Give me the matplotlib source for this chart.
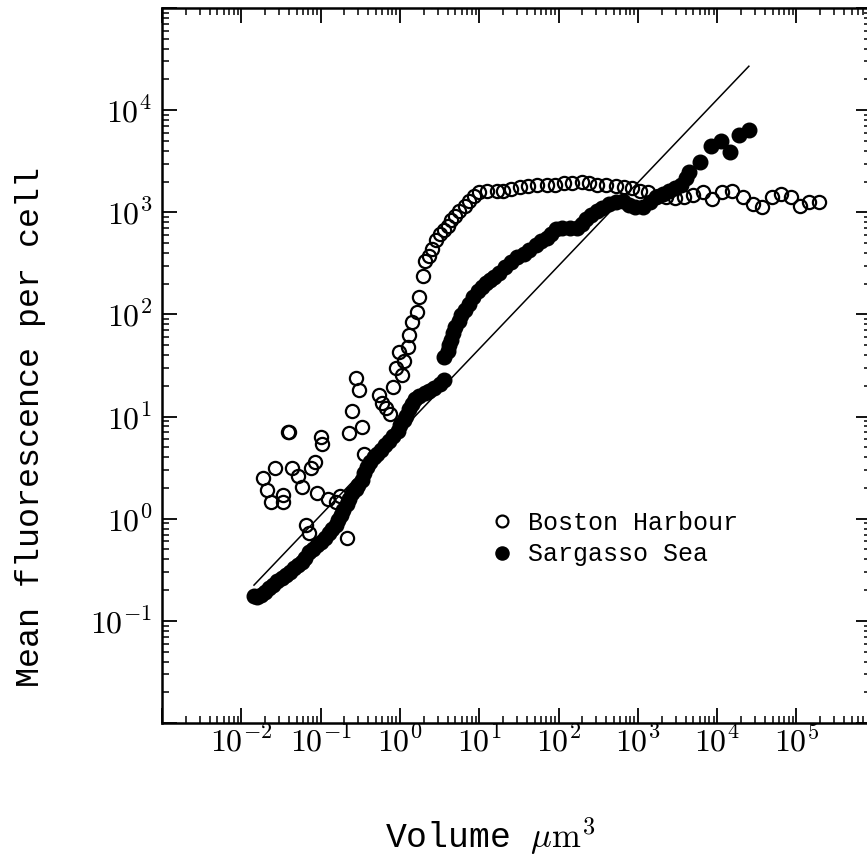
import numpy as np
import matplotlib
matplotlib.use("Agg")
import matplotlib.pyplot as plt
from matplotlib.ticker import LogLocator, FuncFormatter, NullFormatter

plt.rcParams['mathtext.fontset'] = 'cm'

# log10 values (volume in um^3, fluorescence per cell)
boston_log_vol = [-1.73, -1.68, -1.63, -1.48, -1.48, -1.57, -1.36, -1.29, -1.24, -1.12,
                  -1.07, -0.99, -0.98, -1.41, -1.40, -1.05, -0.91, -0.80, -0.76, -1.18,
                  -1.15, -0.67, -0.45, -0.64, -0.60, -0.55, -0.51, -0.48, -0.27, -0.22,
                  -0.17, -0.12, -0.09, -0.05, -0.01, 0.03, 0.05, 0.10, 0.12, 0.15,
                  0.21, 0.24, 0.29, 0.32, 0.37, 0.41, 0.45, 0.50, 0.55, 0.60,
                  0.65, 0.70, 0.75, 0.82, 0.87, 0.94, 1.00, 1.10, 1.22, 1.30,
                  1.40, 1.51, 1.62, 1.73, 1.85, 1.96, 2.07, 2.17, 2.29, 2.39,
                  2.49, 2.60, 2.72, 2.83, 2.93, 3.03, 3.13, 3.25, 3.36, 3.47,
                  3.58, 3.70, 3.82, 3.94, 4.06, 4.19, 4.32, 4.45, 4.56, 4.69,
                  4.81, 4.93, 5.04, 5.16, 5.29]
boston_log_fl = [0.40, 0.28, 0.16, 0.16, 0.23, 0.50, 0.50, 0.42, 0.31, 0.50,
                 0.56, 0.80, 0.73, 0.85, 0.85, 0.25, 0.19, 0.16, 0.22, -0.06,
                 -0.14, -0.19, 0.63, 0.84, 1.05, 1.38, 1.26, 0.90, 1.21, 1.13,
                 1.08, 1.03, 1.29, 1.48, 1.63, 1.41, 1.54, 1.68, 1.80, 1.93,
                 2.02, 2.17, 2.38, 2.52, 2.57, 2.64, 2.73, 2.79, 2.83, 2.87,
                 2.92, 2.96, 3.01, 3.06, 3.11, 3.16, 3.20, 3.21, 3.21, 3.21,
                 3.23, 3.25, 3.26, 3.27, 3.27, 3.27, 3.29, 3.29, 3.30, 3.29,
                 3.27, 3.27, 3.26, 3.25, 3.24, 3.21, 3.20, 3.16, 3.15, 3.14,
                 3.15, 3.17, 3.20, 3.13, 3.20, 3.21, 3.15, 3.08, 3.05, 3.15,
                 3.18, 3.15, 3.06, 3.10, 3.10]

sargasso_log_vol = [-1.84, -1.80, -1.75, -1.70, -1.65, -1.60, -1.55, -1.49, -1.44, -1.39,
                    -1.34, -1.29, -1.24, -1.20, -1.15, -1.10, -1.04, -0.99, -0.94, -0.89,
                    -0.86, -0.81, -0.78, -0.74, -0.72, -0.67, -0.64, -0.60, -0.56, -0.53,
                    -0.48, -0.45, -0.41, -0.38, -0.33, -0.29, -0.24, -0.19, -0.14, -0.09,
                    -0.03, 0.00, 0.05, 0.08, 0.12, 0.15, 0.19, 0.24, 0.31, 0.37,
                    0.43, 0.50, 0.55, 0.56, 0.60, 0.62, 0.65, 0.67, 0.70, 0.74,
                    0.77, 0.82, 0.87, 0.92, 0.98, 1.03, 1.08, 1.13, 1.19, 1.25,
                    1.33, 1.40, 1.48, 1.56, 1.63, 1.71, 1.78, 1.85, 1.91, 1.97,
                    2.05, 2.14, 2.23, 2.29, 2.35, 2.41, 2.48, 2.55, 2.64, 2.72,
                    2.81, 2.89, 2.97, 3.06, 3.15, 3.23, 3.32, 3.39, 3.47, 3.55,
                    3.61, 3.65, 3.78, 3.92, 4.05, 4.16, 4.28, 4.40]
sargasso_log_fl = [-0.76, -0.77, -0.75, -0.72, -0.68, -0.65, -0.61, -0.58, -0.55, -0.52,
                   -0.48, -0.45, -0.42, -0.38, -0.33, -0.30, -0.26, -0.23, -0.19, -0.14,
                   -0.10, -0.06, -0.01, 0.04, 0.09, 0.14, 0.19, 0.25, 0.29, 0.33,
                   0.38, 0.45, 0.51, 0.56, 0.60, 0.63, 0.67, 0.72, 0.76, 0.81,
                   0.86, 0.92, 0.97, 1.01, 1.07, 1.12, 1.17, 1.20, 1.23, 1.25,
                   1.28, 1.32, 1.36, 1.58, 1.64, 1.70, 1.75, 1.82, 1.88, 1.94,
                   1.99, 2.04, 2.10, 2.17, 2.23, 2.27, 2.31, 2.34, 2.37, 2.41,
                   2.46, 2.51, 2.56, 2.59, 2.63, 2.68, 2.72, 2.75, 2.79, 2.84,
                   2.85, 2.85, 2.85, 2.89, 2.93, 2.97, 3.01, 3.04, 3.08, 3.10,
                   3.11, 3.07, 3.05, 3.05, 3.10, 3.15, 3.18, 3.21, 3.24, 3.27,
                   3.34, 3.39, 3.49, 3.65, 3.70, 3.59, 3.76, 3.81]

# reference line (two end points, log10)
line_log_vol = [-1.84, 4.40]
line_log_fl = [-0.65, 4.43]

boston_vol = 10.0 ** np.array(boston_log_vol)
boston_fl = 10.0 ** np.array(boston_log_fl)
sargasso_vol = 10.0 ** np.array(sargasso_log_vol)
sargasso_fl = 10.0 ** np.array(sargasso_log_fl)
line_vol = 10.0 ** np.array(line_log_vol)
line_fl = 10.0 ** np.array(line_log_fl)

text_font = 'Liberation Mono'

fig = plt.figure(figsize=(8.67, 8.61), dpi=100)
# right spine falls just outside the picture, as in the scanned original
ax = fig.add_axes([162 / 867, 1 - 723 / 861, (871 - 162) / 867, (723 - 8) / 861])
ax.set_xscale('log')
ax.set_yscale('log')

ax.plot(line_vol, line_fl, color='black', lw=1.1)
h1, = ax.plot(boston_vol, boston_fl, 'o', ms=9.5, mfc='none', mec='black', mew=1.6,
              label='Boston Harbour')
h2, = ax.plot(sargasso_vol, sargasso_fl, 'o', ms=10.5, mfc='black', mec='black',
              label='Sargasso Sea')

ax.set_xlim(1e-3, 10 ** 5.94)
ax.set_ylim(1e-2, 1e5)

# ticks
ax.xaxis.set_major_locator(LogLocator(base=10, numticks=30))
ax.xaxis.set_minor_locator(LogLocator(base=10, subs=np.arange(2, 10), numticks=30))
ax.yaxis.set_major_locator(LogLocator(base=10, numticks=30))
ax.yaxis.set_minor_locator(LogLocator(base=10, subs=np.arange(2, 10), numticks=30))


def xfmt(v, pos):
    e = int(round(np.log10(v)))
    return r'$10^{%d}$' % e if -2 <= e <= 5 else ''


def yfmt(v, pos):
    e = int(round(np.log10(v)))
    return r'$10^{%d}$' % e if -1 <= e <= 4 else ''


ax.xaxis.set_major_formatter(FuncFormatter(xfmt))
ax.yaxis.set_major_formatter(FuncFormatter(yfmt))
ax.xaxis.set_minor_formatter(NullFormatter())
ax.yaxis.set_minor_formatter(NullFormatter())

ax.tick_params(which='both', direction='in', top=True, right=True, labelsize=23)
ax.tick_params(which='major', length=10.5, width=1.3)
ax.tick_params(which='minor', length=5, width=1.1)
ax.tick_params(axis='x', which='major', pad=3)
ax.tick_params(axis='y', which='major', pad=7)
for s in ax.spines.values():
    s.set_linewidth(1.8)

ax.set_xlabel(r'Volume $\mu\mathrm{m}^3$', family=text_font, fontsize=25)
ax.xaxis.set_label_coords((490 - 162) / 709, (723 - 815) / 715)
ax.set_ylabel('Mean fluorescence per cell', family=text_font, fontsize=24)
ax.yaxis.set_label_coords((46 - 162) / 709, (723 - 427) / 715)

ax.legend(handles=[h1, h2], loc='center left', bbox_to_anchor=(0.471, 0.258),
          frameon=False, markerscale=0.9, handlelength=0.5, handletextpad=0.8,
          borderpad=0, borderaxespad=0, labelspacing=0.3,
          prop={'family': text_font, 'size': 18})

fig.savefig('out.png', dpi=100)
